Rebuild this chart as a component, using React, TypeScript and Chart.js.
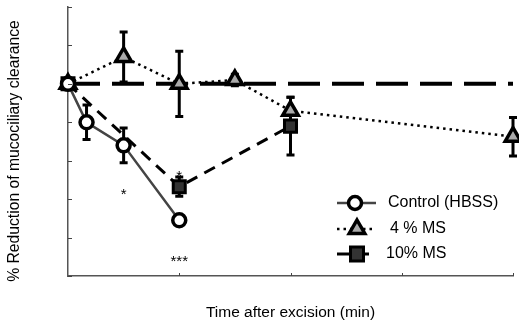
import React, { useEffect, useRef } from "react";
import { Chart, registerables } from "chart.js";

Chart.register(...registerables);

// ---- data ----
const controlTimes = [0, 10, 30, 60];
const controlValues = [0, -20, -32, -71];
const controlErrors = [0, 9, 9, 0];

const ms4Times = [0, 30, 60, 90, 120, 240];
const ms4Values = [0, 14, 0, 2, -14, -27.5];
const ms4Errors = [0, 13, 17, 3, 7, 10];

const ms10Times = [0, 60, 120];
const ms10Values = [0, -53.5, -22];
const ms10Errors = [0, 5, 15];

const baselineTimes = [0, 240];
const baselineValues = [0, 0];

const annotationTimes = [30, 60, 60];
const annotationValues = [-58, -48.5, -92.5];
const annotationLabels = ["*", "*", "***"];

const legendLabels = ["Control (HBSS)", "4 % MS", "10% MS"];
const yTitle = "% Reduction of mucociliary clearance";
const xTitle = "Time after excision (min)";

const FONT = "'Liberation Sans', Arial, sans-serif";

const toPoints = (xs: number[], ys: number[]) => xs.map((x, i) => ({ x, y: ys[i] }));

const errorBarPlugin = {
  id: "errorBars",
  beforeDatasetsDraw(chart: any) {
    const ctx = chart.ctx;
    const xs = chart.scales.x;
    const ys = chart.scales.y;
    const sets = [
      { t: ms10Times, v: ms10Values, e: ms10Errors },
      { t: ms4Times, v: ms4Values, e: ms4Errors },
      { t: controlTimes, v: controlValues, e: controlErrors },
    ];
    ctx.save();
    ctx.strokeStyle = "#000";
    ctx.lineWidth = 3;
    sets.forEach((s) => {
      s.t.forEach((t, i) => {
        const err = s.e[i];
        if (!err) return;
        const px = xs.getPixelForValue(t);
        const top = ys.getPixelForValue(s.v[i] + err);
        const bot = ys.getPixelForValue(s.v[i] - err);
        ctx.beginPath();
        ctx.moveTo(px, top);
        ctx.lineTo(px, bot);
        ctx.moveTo(px - 4, top);
        ctx.lineTo(px + 4, top);
        ctx.moveTo(px - 4, bot);
        ctx.lineTo(px + 4, bot);
        ctx.stroke();
      });
    });
    ctx.restore();
  },
  afterDraw(chart: any) {
    const ctx = chart.ctx;
    const xs = chart.scales.x;
    const ys = chart.scales.y;
    const area = chart.chartArea;
    ctx.save();
    // y axis title
    ctx.save();
    ctx.translate(15, 151);
    ctx.rotate(-Math.PI / 2);
    ctx.fillStyle = "#000";
    ctx.font = `15.7px ${FONT}`;
    ctx.textAlign = "center";
    ctx.textBaseline = "middle";
    ctx.fillText(yTitle, 0, 0);
    ctx.restore();
    // inward tick marks
    ctx.strokeStyle = "#444";
    ctx.lineWidth = 1;
    ys.ticks.forEach((tk: any) => {
      const py = Math.round(ys.getPixelForValue(tk.value)) + 0.5;
      ctx.beginPath();
      ctx.moveTo(area.left, py);
      ctx.lineTo(area.left + 4, py);
      ctx.stroke();
    });
    xs.ticks.forEach((tk: any) => {
      if (tk.value === xs.min) return;
      const px = Math.round(xs.getPixelForValue(tk.value)) + 0.5;
      ctx.beginPath();
      ctx.moveTo(px, area.bottom);
      ctx.lineTo(px, area.bottom - 3);
      ctx.stroke();
    });
    // significance annotations
    ctx.fillStyle = "#000";
    ctx.font = `15px ${FONT}`;
    ctx.textAlign = "center";
    ctx.textBaseline = "middle";
    annotationLabels.forEach((lbl, i) => {
      ctx.fillText(lbl, xs.getPixelForValue(annotationTimes[i]), ys.getPixelForValue(annotationValues[i]));
    });
    // legend
    const rows = [203, 229, 254];
    const lx0 = 337;
    const lx1 = 376;
    // control
    ctx.strokeStyle = "#444";
    ctx.lineWidth = 2.5;
    ctx.setLineDash([]);
    ctx.beginPath();
    ctx.moveTo(lx0, rows[0]);
    ctx.lineTo(lx1, rows[0]);
    ctx.stroke();
    ctx.beginPath();
    ctx.arc(355, rows[0], 6.5, 0, Math.PI * 2);
    ctx.fillStyle = "#fff";
    ctx.fill();
    ctx.strokeStyle = "#000";
    ctx.lineWidth = 3.5;
    ctx.stroke();
    // 4%
    ctx.setLineDash([2.5, 4]);
    ctx.lineWidth = 2.5;
    ctx.beginPath();
    ctx.moveTo(lx0, rows[1]);
    ctx.lineTo(lx1 - 2, rows[1]);
    ctx.stroke();
    ctx.setLineDash([]);
    ctx.beginPath();
    const r = 9;
    const mx = 357;
    ctx.moveTo(mx, rows[1] - r);
    ctx.lineTo(mx + r * 0.866, rows[1] + r * 0.5);
    ctx.lineTo(mx - r * 0.866, rows[1] + r * 0.5);
    ctx.closePath();
    ctx.fillStyle = "#aaa";
    ctx.fill();
    ctx.lineWidth = 3.5;
    ctx.stroke();
    // 10%
    ctx.lineWidth = 3;
    ctx.beginPath();
    ctx.moveTo(lx0, rows[2]);
    ctx.lineTo(lx1 - 7, rows[2]);
    ctx.stroke();
    ctx.fillStyle = "#333";
    ctx.fillRect(mx - 6.5, rows[2] - 7, 13, 14);
    ctx.strokeRect(mx - 6.5, rows[2] - 7, 13, 14);
    ctx.fillStyle = "#000";
    ctx.font = `16px ${FONT}`;
    ctx.textAlign = "left";
    ctx.textBaseline = "middle";
    ctx.fillText(legendLabels[0], 388, rows[0]);
    ctx.fillText(legendLabels[1], 390, rows[1]);
    ctx.fillText(legendLabels[2], 386, rows[2]);
    ctx.restore();
  },
};

export default function App() {
  const ref = useRef<HTMLCanvasElement>(null);
  useEffect(() => {
    document.body.style.margin = "0";
    const chart = new Chart(ref.current!, {
      type: "line",
      data: {
        datasets: [
          {
            label: "baseline",
            data: toPoints(baselineTimes, baselineValues),
            borderColor: "#000",
            borderWidth: 4,
            borderDash: [32, 12],
            pointRadius: 0,
            order: 10,
            clip: false,
          } as any,
          {
            label: legendLabels[2],
            data: toPoints(ms10Times, ms10Values),
            borderColor: "#000",
            borderWidth: 3,
            borderDash: [12, 8],
            pointStyle: "rect",
            pointRadius: 8.5,
            pointBackgroundColor: "#333",
            pointBorderColor: "#000",
            pointBorderWidth: 3,
            order: 3,
            clip: false,
          },
          {
            label: legendLabels[1],
            data: toPoints(ms4Times, ms4Values),
            borderColor: "#000",
            borderWidth: 2.5,
            borderDash: [2.5, 4],
            pointStyle: "triangle",
            pointRadius: 9,
            pointBackgroundColor: "#aaa",
            pointBorderColor: "#000",
            pointBorderWidth: 3.5,
            order: 2,
            clip: false,
          },
          {
            label: legendLabels[0],
            data: toPoints(controlTimes, controlValues),
            borderColor: "#444",
            borderWidth: 2.5,
            pointStyle: "circle",
            pointRadius: 6.5,
            pointBackgroundColor: "#fff",
            pointBorderColor: "#000",
            pointBorderWidth: 3.5,
            order: 1,
            clip: false,
          },
        ],
      },
      options: {
        animation: false,
        responsive: false,
        layout: { autoPadding: false, padding: { left: 6, right: 6, top: 7, bottom: 0 } },
        plugins: { legend: { display: false }, tooltip: { enabled: false } },
        scales: {
          x: {
            type: "linear",
            min: 0,
            max: 240,
            ticks: { display: false, stepSize: 60 },
            grid: { display: false, drawTicks: false },
            border: { display: true, color: "#555", width: 1.5 },
            title: {
              display: true,
              text: xTitle,
              color: "#000",
              font: { family: FONT, size: 15.5 },
              padding: { top: 27.7, bottom: 6.7 },
            },
          },
          y: {
            min: -100,
            max: 40,
            ticks: { display: false, stepSize: 20 },
            grid: { display: false, drawTicks: false },
            border: { display: true, color: "#555", width: 1.5 },
            afterFit: (scale: any) => {
              scale.width = 62;
            },
          },
        },
      },
      plugins: [errorBarPlugin],
    });
    return () => chart.destroy();
  }, []);
  return (
    <div style={{ width: 519, height: 329 }}>
      <canvas ref={ref} width={519} height={329} style={{ display: "block" }} />
    </div>
  );
}
